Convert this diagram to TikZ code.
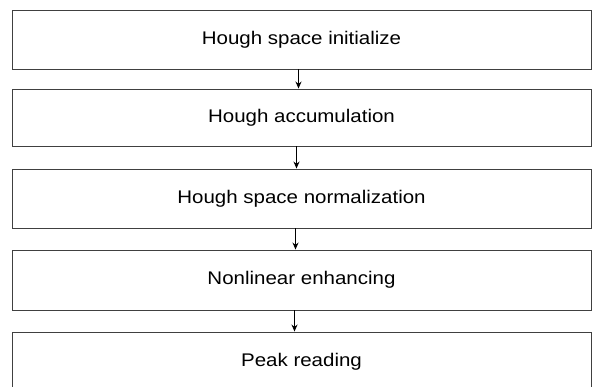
\documentclass[tikz,border=0pt]{standalone}
\usepackage{fontspec}
\setmainfont[FakeStretch=1.12]{Liberation Sans}
\usetikzlibrary{arrows.meta}
\begin{document}
\begin{tikzpicture}[x=1pt,y=-1pt,
  box/.style={draw=black!75,line width=0.9pt,rectangle,minimum width=579pt,inner sep=0pt,font=\fontsize{18.3}{20}\selectfont},
  flow/.style={draw=black,line width=1.1pt,-{Stealth[length=7pt,width=6pt]}}]
\useasboundingbox (0,0) rectangle (593,387);
\clip (0,0) rectangle (593,387);
\node[box,minimum height=59pt] (b1) at (301.5,39.5) {Hough space initialize};
\node[box,minimum height=57pt] (b2) at (301.5,117.5) {Hough accumulation};
\node[box,minimum height=59pt] (b3) at (301.5,198.5) {Hough space normalization};
\node[box,minimum height=60pt] (b4) at (301.5,280) {Nonlinear enhancing};
\node[box,minimum height=59pt] (b5) at (301.5,361.5) {Peak reading};
\draw[flow] ([xshift=-3pt]b1.south) -- ([xshift=-3pt]b2.north);
\draw[flow] ([xshift=-5pt]b2.south) -- ([xshift=-5pt]b3.north);
\draw[flow] ([xshift=-6pt]b3.south) -- ([xshift=-6pt]b4.north);
\draw[flow] ([xshift=-7pt]b4.south) -- ([xshift=-7pt]b5.north);
\end{tikzpicture}
\end{document}
